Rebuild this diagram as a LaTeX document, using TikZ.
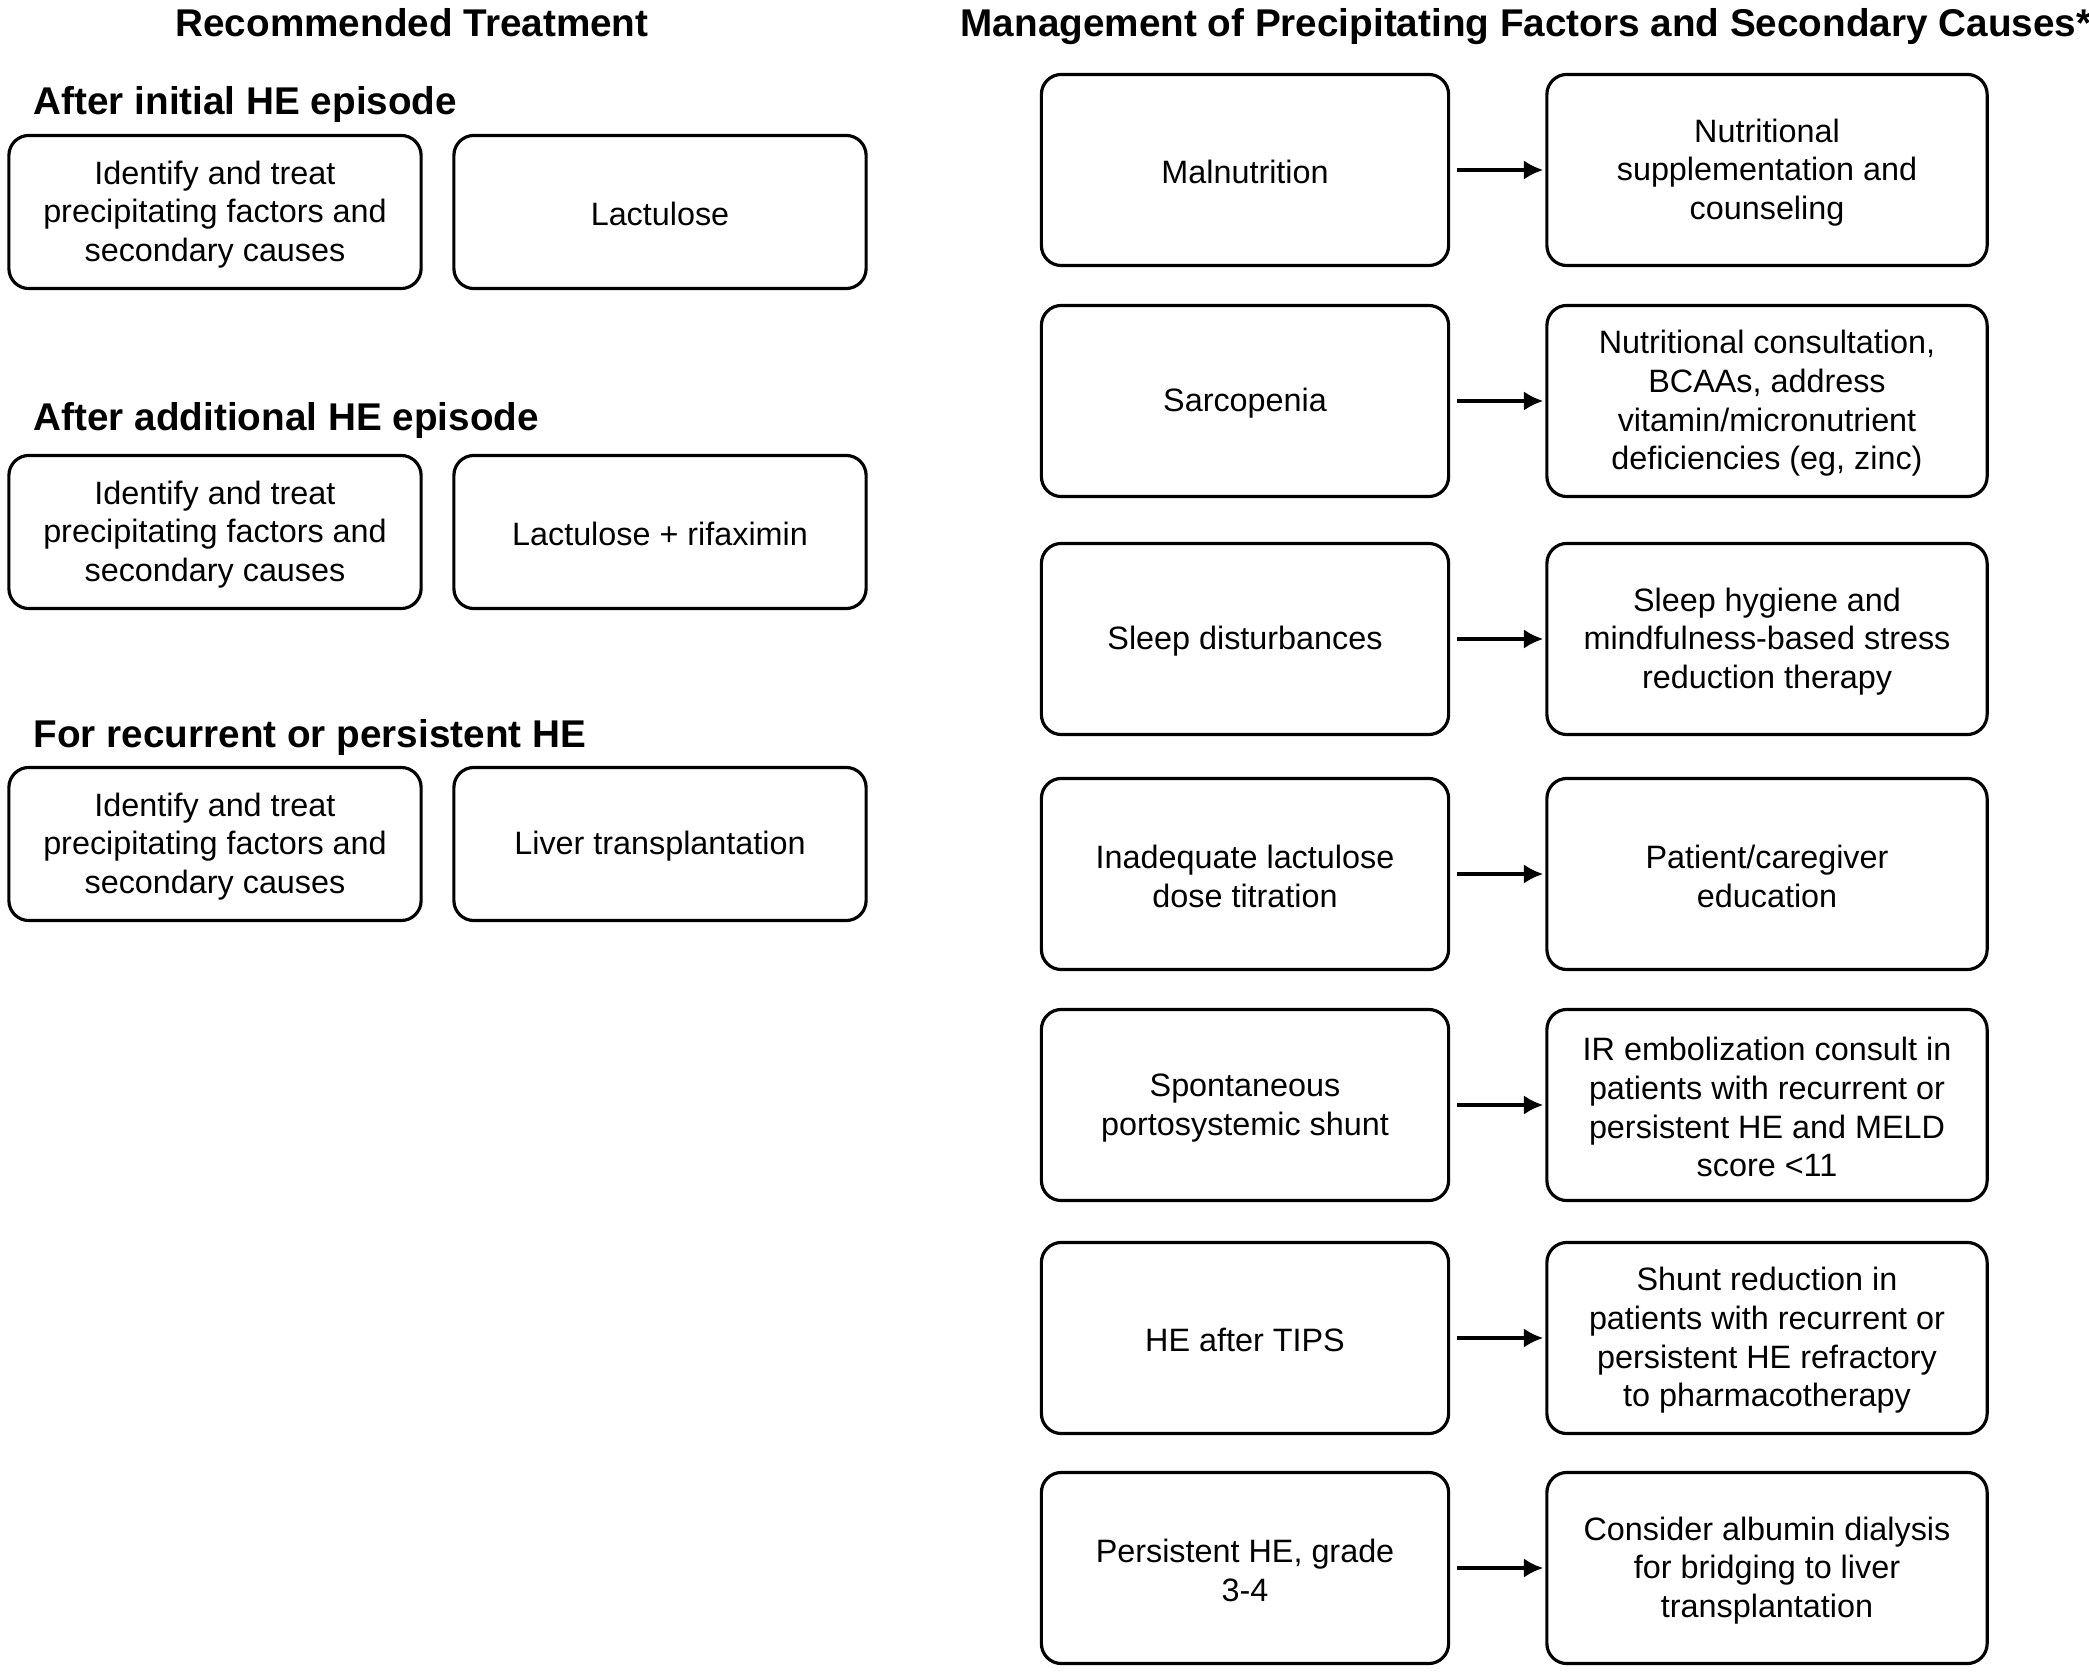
\documentclass[tikz,border=0pt]{standalone}
\usepackage{fontspec}
\setmainfont{Liberation Sans}
\usepackage{tikz}
\usetikzlibrary{positioning,arrows,arrows.meta}
\tikzstyle{plain}     = [rectangle, rounded corners=0.2cm, draw=black, line width=0.9pt, align=flush center, font=\fontsize{9.2}{11}\selectfont, execute at begin node={\rule{0pt}{8pt}}]
\tikzstyle{treat}     = [plain, text width=3.8cm, minimum width=4.12cm, minimum height=1.53cm]
\tikzstyle{cause}     = [plain, text width=3.8cm, minimum width=4.07cm, minimum height=1.91cm]
\tikzstyle{manage}    = [plain, text width=4.1cm, minimum width=4.40cm, minimum height=1.91cm]
\tikzstyle{heading}   = [anchor=west, inner sep=0pt, font=\fontsize{11}{13}\selectfont\bfseries]
\tikzstyle{title}     = [inner sep=0pt, font=\fontsize{11}{13}\selectfont\bfseries]
\tikzstyle{arrow}     = [line width=1.2pt, -{Latex[length=5.5pt,width=5.5pt]}]

\begin{document}
\begin{tikzpicture}[x=0.01cm,y=-0.01cm]
        \useasboundingbox (0,0) rectangle (2089,1674);

        % left column
        \node[title] (rectitle) at (412,23) {Recommended Treatment};

        \node[heading] (inihead) at (33,105) {After initial HE episode};
        \node[treat] (ini1) at (215,212) {Identify and treat\\precipitating factors and\\secondary causes};
        \node[treat] (ini2) at (660,212) {Lactulose};

        \node[heading] (addhead) at (33,421) {After additional HE episode};
        \node[treat] (add1) at (215,532) {Identify and treat\\precipitating factors and\\secondary causes};
        \node[treat] (add2) at (660,532) {Lactulose + rifaximin};

        \node[heading] (rechead) at (33,737) {For recurrent or persistent HE};
        \node[treat] (rec1) at (215,844) {Identify and treat\\precipitating factors and\\secondary causes};
        \node[treat] (rec2) at (660,844) {Liver transplantation};

        % right column
        \node[title] (mantitle) at (1526,27) {Management of Precipitating Factors and Secondary Causes*};

        \node[cause] (mal) at (1245,170) {Malnutrition};
        \node[manage] (malr) at (1767,170) {Nutritional\\supplementation and\\counseling};

        \node[cause] (sar) at (1245,401) {Sarcopenia};
        \node[manage] (sarr) at (1767,401) {Nutritional consultation,\\BCAAs, address\\vitamin/micronutrient\\deficiencies (eg, zinc)};

        \node[cause] (sle) at (1245,639) {Sleep disturbances};
        \node[manage] (sler) at (1767,639) {Sleep hygiene and\\mindfulness-based stress\\reduction therapy};

        \node[cause] (lac) at (1245,874) {Inadequate lactulose\\dose titration};
        \node[manage] (lacr) at (1767,874) {Patient/caregiver\\education};

        \node[cause] (sps) at (1245,1105) {Spontaneous\\portosystemic shunt};
        \node[manage] (spsr) at (1767,1105) {IR embolization consult in\\patients with recurrent or\\persistent HE and MELD\\score <11};

        \node[cause] (tips) at (1245,1338) {HE after TIPS};
        \node[manage] (tipsr) at (1767,1338) {Shunt reduction in\\patients with recurrent or\\persistent HE refractory\\to pharmacotherapy};

        \node[cause] (per) at (1245,1568) {Persistent HE, grade\\3-4};
        \node[manage] (perr) at (1767,1568) {Consider albumin dialysis\\for bridging to liver\\transplantation};

        \draw[arrow] ([xshift=0.07cm]mal.east) -- ([xshift=-0.02cm]malr.west);
        \draw[arrow] ([xshift=0.07cm]sar.east) -- ([xshift=-0.02cm]sarr.west);
        \draw[arrow] ([xshift=0.07cm]sle.east) -- ([xshift=-0.02cm]sler.west);
        \draw[arrow] ([xshift=0.07cm]lac.east) -- ([xshift=-0.02cm]lacr.west);
        \draw[arrow] ([xshift=0.07cm]sps.east) -- ([xshift=-0.02cm]spsr.west);
        \draw[arrow] ([xshift=0.07cm]tips.east) -- ([xshift=-0.02cm]tipsr.west);
        \draw[arrow] ([xshift=0.07cm]per.east) -- ([xshift=-0.02cm]perr.west);
\end{tikzpicture}
\end{document}
